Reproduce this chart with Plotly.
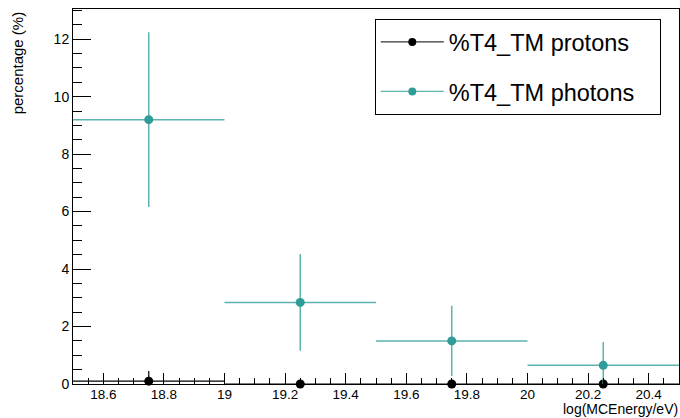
import plotly.graph_objects as go

energy = [18.75, 19.25, 19.75, 20.25]
bin_half_width = [0.25, 0.25, 0.25, 0.25]
protons = [0.1, 0.0, 0.0, 0.0]
protons_err = [0.35, 0.0, 0.0, 0.0]
photons = [9.2, 2.84, 1.5, 0.65]
photons_err = [3.04, 1.68, 1.22, 0.81]
series_names = ["%T4_TM protons", "%T4_TM photons"]

teal = "#2f9c97"
teal_err = "#5db3ae"
pad = "\u00a0\u00a0\u00a0"

fig = go.Figure()

fig.add_trace(go.Scatter(
    x=energy, y=protons, mode="markers",
    marker=dict(color="black", size=9),
    error_x=dict(type="data", array=bin_half_width, color="black", thickness=1.2, width=0),
    error_y=dict(type="data", array=protons_err, color="black", thickness=1.2, width=0),
    showlegend=False, cliponaxis=False,
))
fig.add_trace(go.Scatter(
    x=energy, y=photons, mode="markers",
    marker=dict(color=teal, size=9),
    error_x=dict(type="data", array=bin_half_width, color=teal_err, thickness=1.5, width=0),
    error_y=dict(type="data", array=photons_err, color=teal_err, thickness=1.5, width=0),
    showlegend=False, cliponaxis=True,
))
# legend entries (ROOT style line + marker)
fig.add_trace(go.Scatter(x=[None], y=[None], mode="lines+markers", name=series_names[0] + pad,
                         line=dict(color="black", width=1), marker=dict(color="black", size=8),
                         legendgroup="a"))
fig.add_trace(go.Scatter(x=[None], y=[None], mode="lines+markers", name=series_names[1] + pad,
                         line=dict(color=teal_err, width=1.2), marker=dict(color=teal, size=8),
                         legendgroup="b"))

fig.update_layout(
    width=680, height=418,
    margin=dict(l=73, r=1, t=9, b=34),
    paper_bgcolor="white", plot_bgcolor="white",
    font=dict(family="Liberation Sans, Arial, sans-serif", color="black", size=14),
    legend=dict(
        x=0.498, y=0.973, xanchor="left", yanchor="top",
        bgcolor="white", bordercolor="black", borderwidth=1,
        font=dict(size=23.5), tracegroupgap=16, traceorder="grouped",
        itemwidth=63,
    ),
    xaxis=dict(
        range=[18.5, 20.5], tick0=18.6, dtick=0.2, ticks="inside", ticklen=11,
        tickwidth=1, tickcolor="black", showline=True, linecolor="black", linewidth=1,
        mirror=True, showgrid=False, zeroline=False, ticklabelstandoff=-2,
        minor=dict(dtick=0.05, ticks="inside", ticklen=6, tickwidth=1, tickcolor="black", showgrid=False),
        tickfont=dict(size=13.5),
    ),
    yaxis=dict(
        range=[0, 13.05], tick0=0, dtick=2, ticks="inside", ticklen=18,
        tickwidth=1, tickcolor="black", showline=True, linecolor="black", linewidth=1,
        mirror=True, showgrid=False, zeroline=False,
        minor=dict(dtick=0.5, ticks="inside", ticklen=9, tickwidth=1, tickcolor="black", showgrid=False),
        tickfont=dict(size=14),
    ),
    annotations=[
        dict(text="percentage (%)", xref="paper", yref="paper", x=-0.091, y=1.0,
             xanchor="center", yanchor="top", textangle=-90, showarrow=False,
             font=dict(size=15)),
        dict(text="log(MCEnergy/eV)", xref="paper", yref="paper", x=1.0, y=-0.0907,
             xanchor="right", yanchor="bottom", showarrow=False, font=dict(size=14),
             borderpad=0),
    ],
)

fig.write_html("out.html")
